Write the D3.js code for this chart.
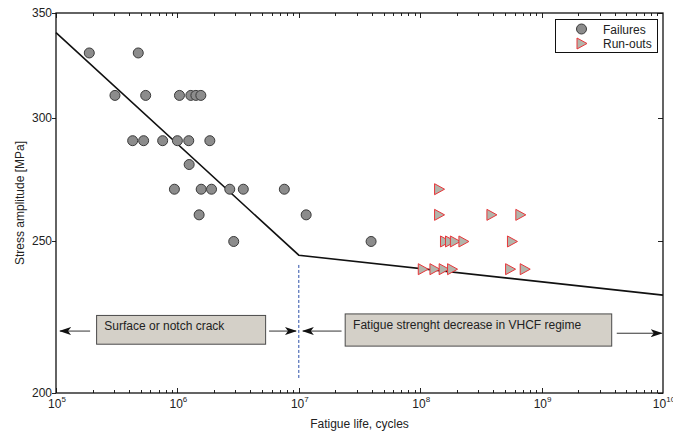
<!DOCTYPE html>
<html>
<head>
<meta charset="utf-8">
<script src="https://cdn.jsdelivr.net/npm/d3@7"></script>
<style>
  html, body { margin: 0; padding: 0; background: #fff; }
  svg { display: block; font-family: "Liberation Sans", Arial, Helvetica, sans-serif; }
</style>
</head>
<body>
<svg id="chart" width="673" height="432"></svg>
<script>
// ---- data ----
const failN = [1.88e5, 4.76e5, 3.06e5, 5.48e5, 1.04e6, 1.29e6, 1.42e6, 1.56e6,
               4.28e5, 5.27e5, 7.56e5, 1.0e6, 1.24e6, 1.85e6, 1.25e6,
               9.45e5, 1.57e6, 1.91e6, 2.70e6, 3.49e6, 7.6e6,
               1.51e6, 1.15e7, 2.91e6, 3.94e7];
const failS = [330, 330, 310, 310, 310, 310, 310, 310,
               290, 290, 290, 290, 290, 290, 280,
               270, 270, 270, 270, 270, 270,
               260, 260, 250, 250];
const runN = [1.43e8, 1.43e8, 3.86e8, 6.68e8, 1.60e8, 1.76e8, 1.93e8, 2.27e8, 5.70e8,
              1.05e8, 1.31e8, 1.56e8, 1.83e8, 5.50e8, 7.26e8];
const runS = [270, 260, 260, 260, 250, 250, 250, 250, 250,
              240, 240, 240, 240, 240, 240];
const curveN = [1e5, 1e7, 1e10];
const curveS = [340, 245, 231];
const xTickExp = [5, 6, 7, 8, 9, 10];
const yTicks = [200, 250, 300, 350];
const legendLabels = ["Failures", "Run-outs"];
const regionLabels = ["Surface or notch crack", "Fatigue strenght decrease in VHCF regime"];

// ---- layout ----
const svg = d3.select("#chart");
const x = d3.scaleLog().domain([1e5, 1e10]).range([56, 663]);
const y = d3.scaleLog().domain([200, 350]).range([393, 13]);
const X0 = x.range()[0], X1 = x.range()[1], Y0 = y.range()[0], Y1 = y.range()[1];

// ---- ticks ----
const tg = svg.append("g").attr("stroke", "#222").attr("stroke-width", 1);
for (let e = 5; e < 10; e++) {
  for (let m = 1; m <= 9; m++) {
    const v = m * Math.pow(10, e);
    const px = Math.round(x(v)) + 0.5;
    const len = m === 1 ? 5 : 3;
    tg.append("line").attr("x1", px).attr("x2", px).attr("y1", Y0).attr("y2", Y0 - len);
    tg.append("line").attr("x1", px).attr("x2", px).attr("y1", Y1).attr("y2", Y1 + len);
  }
}
yTicks.forEach(v => {
  const py = Math.round(y(v)) + 0.5;
  tg.append("line").attr("x1", X0).attr("x2", X0 - 4).attr("y1", py).attr("y2", py);
  tg.append("line").attr("x1", X1).attr("x2", X1 - 5).attr("y1", py).attr("y2", py);
});

// tick labels
const xl = svg.append("g").attr("font-size", 12).attr("fill", "#222");
xTickExp.forEach(e => {
  const t = xl.append("text").attr("x", x(Math.pow(10, e)) + 1).attr("y", 408)
    .attr("text-anchor", "middle");
  t.append("tspan").text("10");
  t.append("tspan").attr("font-size", 8).attr("dy", -6).text(e);
});
yTicks.forEach(v => {
  svg.append("text").attr("x", 52).attr("y", y(v) + 4).attr("text-anchor", "end")
    .attr("font-size", 12).attr("fill", "#222").text(v);
});

// axis labels
svg.append("text").attr("x", (X0 + X1) / 2).attr("y", 428).attr("text-anchor", "middle")
  .attr("font-size", 12).attr("fill", "#222").text("Fatigue life, cycles");
svg.append("text").attr("transform", `translate(24,${(Y0 + Y1) / 2}) rotate(-90)`)
  .attr("text-anchor", "middle").attr("font-size", 12).attr("fill", "#222")
  .text("Stress amplitude [MPa]");

// ---- annotations ----
const defs = svg.append("defs");
defs.append("marker").attr("id", "ah").attr("viewBox", "0 0 12 8")
  .attr("refX", 11).attr("refY", 4).attr("markerWidth", 12).attr("markerHeight", 8)
  .attr("markerUnits", "userSpaceOnUse").attr("orient", "auto")
  .append("path").attr("d", "M0,0 L12,4 L0,8 L3,4 Z").attr("fill", "#111");

// dashed divider
svg.append("line").attr("x1", x(1e7)).attr("x2", x(1e7))
  .attr("y1", y(241.5)).attr("y2", y(204.4))
  .attr("stroke", "#2b4fa8").attr("stroke-width", 1).attr("stroke-dasharray", "3,2");

const boxes = [
  { n0: 2.16e5, n1: 5.33e6, s0: 224.2, s1: 214.9, label: regionLabels[0], tn: 2.5e5, ts: 219.6 },
  { n0: 2.41e7, n1: 3.78e9, s0: 224.7, s1: 214.3, label: regionLabels[1], tn: 2.8e7, ts: 219.8 }
];
boxes.forEach(b => {
  svg.append("rect").attr("x", x(b.n0)).attr("y", y(b.s0))
    .attr("width", x(b.n1) - x(b.n0)).attr("height", y(b.s1) - y(b.s0))
    .attr("fill", "#d4d0c8").attr("stroke", "#4a4a4a").attr("stroke-width", 1);
  svg.append("text").attr("x", x(b.tn)).attr("y", y(b.ts)).attr("font-size", 12)
    .attr("fill", "#222").text(b.label);
});

const arrows = [
  { n0: 1.91e5, n1: 1.08e5, s: 219.1 },
  { n0: 5.69e6, n1: 9.48e6, s: 219.1 },
  { n0: 2.25e7, n1: 1.08e7, s: 219.1 },
  { n0: 4.16e9, n1: 9.76e9, s: 218.4 }
];
arrows.forEach(a => {
  svg.append("line").attr("x1", x(a.n0)).attr("x2", x(a.n1))
    .attr("y1", y(a.s)).attr("y2", y(a.s))
    .attr("stroke", "#333").attr("stroke-width", 1).attr("marker-end", "url(#ah)");
});

// ---- S-N curve ----
svg.append("path").datum(curveN.map((n, i) => [n, curveS[i]]))
  .attr("d", d3.line().x(d => x(d[0])).y(d => y(d[1])))
  .attr("fill", "none").attr("stroke", "#111").attr("stroke-width", 1.6);

// ---- markers ----
const tri = "M-4.5,-5.5 L5.5,0 L-4.5,5.5 Z";
svg.append("g").selectAll("circle").data(failN.map((n, i) => [n, failS[i]])).join("circle")
  .attr("cx", d => x(d[0])).attr("cy", d => y(d[1])).attr("r", 5)
  .attr("fill", "#8c8c8c").attr("stroke", "#3a3a3a").attr("stroke-width", 1);
svg.append("g").selectAll("path").data(runN.map((n, i) => [n, runS[i]])).join("path")
  .attr("transform", d => `translate(${x(d[0])},${y(d[1])})`).attr("d", tri)
  .attr("fill", "#b2b5ab").attr("stroke", "#e8363a").attr("stroke-width", 1);

// ---- frame ----
svg.append("rect").attr("x", X0).attr("y", Y1).attr("width", X1 - X0).attr("height", Y0 - Y1)
  .attr("fill", "none").attr("stroke", "#111").attr("stroke-width", 1.3);

// ---- legend ----
const lg = svg.append("g");
lg.append("rect").attr("x", 555.5).attr("y", 19.5).attr("width", 102).attr("height", 33)
  .attr("fill", "#fff").attr("stroke", "#111").attr("stroke-width", 1);
lg.append("circle").attr("cx", 581.5).attr("cy", 29).attr("r", 5)
  .attr("fill", "#8c8c8c").attr("stroke", "#3a3a3a");
lg.append("path").attr("transform", "translate(581.5,43.5)").attr("d", tri)
  .attr("fill", "#b2b5ab").attr("stroke", "#e8363a");
legendLabels.forEach((t, i) => {
  lg.append("text").attr("x", 603).attr("y", 33.5 + i * 14.5).attr("font-size", 12)
    .attr("fill", "#222").text(t);
});
</script>
</body>
</html>
